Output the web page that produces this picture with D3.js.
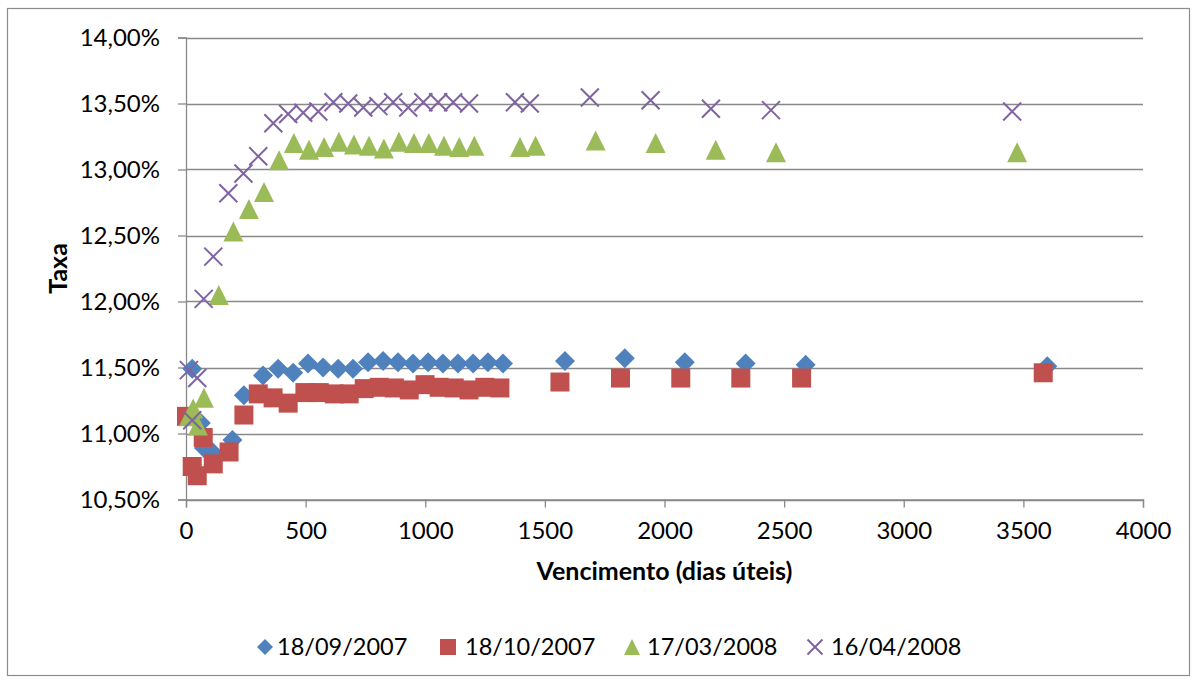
<!DOCTYPE html>
<html>
<head>
<meta charset="utf-8">
<script src="https://cdn.jsdelivr.net/npm/d3@7"></script>
<style>
  html, body { margin: 0; padding: 0; background: #ffffff; }
  svg { display: block; font-family: Lato, "Open Sans", sans-serif; }
</style>
</head>
<body>
<svg id="chart" width="1197" height="680"></svg>
<script>
// Vencimento (dias úteis) and taxa (%) for each curve date
const seriesNames = ["18/09/2007", "18/10/2007", "17/03/2008", "16/04/2008"];

const dias_18_09_2007 = [26, 62, 75, 110, 194, 242, 322, 385, 448, 510, 573, 636, 698, 761, 824, 886, 949, 1012, 1074, 1137, 1200, 1262, 1325, 1584, 1834, 2085, 2339, 2590, 3600];
const taxa_18_09_2007 = [11.49, 11.08, 10.89, 10.86, 10.95, 11.29, 11.44, 11.49, 11.46, 11.53, 11.50, 11.49, 11.49, 11.54, 11.55, 11.54, 11.53, 11.54, 11.53, 11.53, 11.53, 11.54, 11.53, 11.55, 11.57, 11.54, 11.53, 11.52, 11.51];

const dias_18_10_2007 = [2, 26, 47, 72, 114, 180, 242, 302, 364, 427, 497, 557, 620, 682, 745, 808, 871, 933, 999, 1058, 1121, 1183, 1249, 1312, 1563, 1816, 2068, 2319, 2573, 3583];
const taxa_18_10_2007 = [11.13, 10.75, 10.68, 10.97, 10.77, 10.86, 11.14, 11.30, 11.27, 11.23, 11.31, 11.31, 11.30, 11.30, 11.34, 11.35, 11.345, 11.33, 11.37, 11.35, 11.345, 11.33, 11.35, 11.345, 11.39, 11.42, 11.42, 11.42, 11.42, 11.46];

const dias_17_03_2008 = [12, 30, 50, 75, 137, 198, 263, 326, 389, 451, 514, 577, 639, 702, 765, 827, 890, 953, 1015, 1078, 1142, 1205, 1396, 1461, 1712, 1963, 2214, 2466, 3474];
const taxa_17_03_2008 = [11.13, 11.19, 11.06, 11.27, 12.05, 12.53, 12.70, 12.83, 13.07, 13.20, 13.15, 13.17, 13.21, 13.19, 13.18, 13.16, 13.21, 13.20, 13.20, 13.18, 13.17, 13.18, 13.17, 13.18, 13.22, 13.20, 13.15, 13.13, 13.13];

const dias_16_04_2008 = [12, 26, 47, 74, 114, 177, 240, 302, 365, 427, 490, 553, 616, 678, 741, 804, 866, 929, 992, 1054, 1117, 1183, 1375, 1437, 1688, 1942, 2194, 2445, 3453];
const taxa_16_04_2008 = [11.48, 11.10, 11.42, 12.02, 12.34, 12.82, 12.97, 13.10, 13.35, 13.42, 13.43, 13.44, 13.51, 13.50, 13.47, 13.48, 13.51, 13.47, 13.51, 13.51, 13.51, 13.50, 13.51, 13.50, 13.545, 13.525, 13.46, 13.45, 13.44];

const xTicks = [0, 500, 1000, 1500, 2000, 2500, 3000, 3500, 4000];
const yTicks = [10.5, 11.0, 11.5, 12.0, 12.5, 13.0, 13.5, 14.0];

const xTitle = "Vencimento (dias úteis)";
const yTitle = "Taxa";

const seriesList = [
  { name: seriesNames[0], x: dias_18_09_2007, y: taxa_18_09_2007, shape: "diamond", color: "#4F81BD" },
  { name: seriesNames[1], x: dias_18_10_2007, y: taxa_18_10_2007, shape: "square",  color: "#C0504D" },
  { name: seriesNames[2], x: dias_17_03_2008, y: taxa_17_03_2008, shape: "triangle", color: "#9BBB59" },
  { name: seriesNames[3], x: dias_16_04_2008, y: taxa_16_04_2008, shape: "cross",   color: "#8064A2" }
];

const svg = d3.select("#chart");
const gridColor = "#898989";
const plot = { left: 186, right: 1143, top: 37.5, bottom: 499.5 };

const x = d3.scaleLinear().domain([0, 4000]).range([plot.left, plot.right]);
const y = d3.scaleLinear().domain([10.5, 14]).range([plot.bottom, plot.top]);

const ptBR = d3.formatLocale({ decimal: ",", thousands: ".", grouping: [3], currency: ["R$", ""] });
const fmtY = v => ptBR.format(".2f")(v) + "%";
const fmtX = d3.format("d");

// outer frame
svg.append("rect")
  .attr("x", 7.5).attr("y", 8.5).attr("width", 1182).attr("height", 667)
  .attr("fill", "#fff").attr("stroke", "#8c8c8c").attr("stroke-width", 1.2);

// horizontal gridlines
svg.append("g").selectAll("line").data(yTicks).join("line")
  .attr("x1", plot.left).attr("x2", plot.right)
  .attr("y1", d => Math.round(y(d)) + 0.5).attr("y2", d => Math.round(y(d)) + 0.5)
  .attr("stroke", gridColor).attr("stroke-width", 1.3);

// y axis
const yAxis = svg.append("g")
  .attr("transform", `translate(${plot.left},0)`)
  .call(d3.axisLeft(y).tickValues(yTicks).tickFormat(fmtY).tickSize(8).tickPadding(18));
yAxis.select(".domain").attr("stroke", gridColor).attr("stroke-width", 1.3);
yAxis.selectAll(".tick line").attr("stroke", gridColor).attr("stroke-width", 1.3);
yAxis.selectAll(".tick text").attr("font-size", 24).attr("fill", "#000")
  .attr("font-family", "Lato, sans-serif");

// x axis
const xAxis = svg.append("g")
  .attr("transform", `translate(0,${plot.bottom})`)
  .call(d3.axisBottom(x).tickValues(xTicks).tickFormat(fmtX).tickSize(8).tickPadding(14));
xAxis.select(".domain").attr("stroke", gridColor).attr("stroke-width", 1.3);
xAxis.selectAll(".tick line").attr("stroke", gridColor).attr("stroke-width", 1.3);
xAxis.selectAll(".tick text").attr("font-size", 24).attr("fill", "#000")
  .attr("font-family", "Lato, sans-serif");

// axis titles
svg.append("text")
  .attr("transform", `translate(67,${(plot.top + plot.bottom) / 2}) rotate(-90)`)
  .attr("text-anchor", "middle")
  .attr("font-size", 25).attr("font-weight", "bold").attr("fill", "#000")
  .text(yTitle);

svg.append("text")
  .attr("x", (plot.left + plot.right) / 2).attr("y", 580)
  .attr("text-anchor", "middle")
  .attr("font-size", 25).attr("font-weight", "bold").attr("fill", "#000")
  .text(xTitle);

// marker shapes centred on (0,0), r = half size
function shapePath(shape, r) {
  switch (shape) {
    case "diamond":  return `M0,${-r}L${r},0L0,${r}L${-r},0Z`;
    case "square":   return `M${-r},${-r}H${r}V${r}H${-r}Z`;
    case "triangle": return `M0,${-r}L${r},${r}L${-r},${r}Z`;
    case "cross":    return `M${-r},${-r}L${r},${r}M${r},${-r}L${-r},${r}`;
  }
}

function styleMarker(sel, s) {
  if (s.shape === "cross") {
    sel.attr("fill", "none").attr("stroke", s.color).attr("stroke-width", 2);
  } else {
    sel.attr("fill", s.color).attr("stroke", "none");
  }
}

const markerHalf = { diamond: 10, square: 9.5, triangle: 10, cross: 9 };

seriesList.forEach(s => {
  const pts = s.x.map((d, i) => ({ dias: d, taxa: s.y[i] }));
  svg.append("g").selectAll("path").data(pts).join("path")
    .attr("transform", d => `translate(${x(d.dias)},${y(d.taxa)})`)
    .attr("d", shapePath(s.shape, markerHalf[s.shape]))
    .call(styleMarker, s);
});

// legend
const legendItems = [
  { mx: 265, tx: 277 },
  { mx: 448, tx: 465 },
  { mx: 632, tx: 647 },
  { mx: 815, tx: 831 }
];
const legendY = 647;
const legendHalf = { diamond: 8, square: 8, triangle: 8, cross: 7.5 };
const legend = svg.append("g");
seriesList.forEach((s, i) => {
  legend.append("path")
    .attr("transform", `translate(${legendItems[i].mx},${legendY})`)
    .attr("d", shapePath(s.shape, legendHalf[s.shape]))
    .call(styleMarker, s);
  legend.append("text")
    .attr("x", legendItems[i].tx).attr("y", legendY)
    .attr("dy", "0.36em")
    .attr("font-size", 23.5).attr("fill", "#000")
    .text(s.name);
});
</script>
</body>
</html>
